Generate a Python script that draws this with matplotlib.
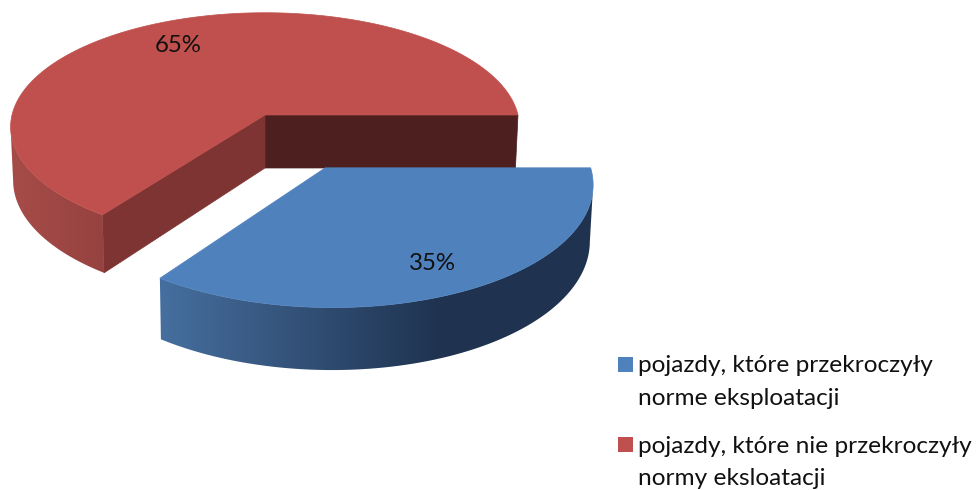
import numpy as np
import matplotlib
matplotlib.use("Agg")
import matplotlib.pyplot as plt
from matplotlib.colors import to_rgb
from matplotlib.patches import Polygon, Rectangle

categories = ["pojazdy, które przekroczyły\nnorme eksploatacji",
              "pojazdy, które nie przekroczyły\nnormy eksloatacji"]
shares = [35, 65]
pct_labels = ["35%", "65%"]

W, H = 976, 490
CX, CY = 265.0, 115.0
A, B, K = 253.0, 113.0, 0.105
DEPTH = 53.0
EXPLODE = 0.5
FONT = "Lato"

fig = plt.figure(figsize=(W / 100, H / 100), dpi=100)
ax = fig.add_axes([0, 0, 1, 1])


def project(x, y, low=False):
    w = 1 - K * y
    u = A * x / w
    v = B * y / w
    if low:
        u *= 0.99
        v += DEPTH / w
    return np.column_stack([CX + u, CY + v])


def arc(a0, a1, off, n=360):
    t = np.radians(np.linspace(a0, a1, n))
    return np.cos(t) + off[0], np.sin(t) + off[1]


def draw_slice(a0, a1, off, top, side0, side1, x0, x1, walls):
    ox, oy = off
    # flat cut faces first
    for ang, col in walls:
        ex, ey = np.cos(np.radians(ang)) + ox, np.sin(np.radians(ang)) + oy
        xs, ys = np.array([ox, ex]), np.array([oy, ey])
        p_hi, p_lo = project(xs, ys), project(xs, ys, low=True)
        ax.add_patch(Polygon(np.vstack([p_hi, p_lo[::-1]]), fc=col, ec=col, lw=0.5, zorder=2))
    # outer wall: only the part of the arc that faces the viewer, shaded along x
    xs, ys = arc(a0, a1, off)
    hi, lo = project(xs, ys), project(xs, ys, low=True)
    front = np.gradient(hi[:, 0]) < 0
    rim = Polygon(np.vstack([hi[front], lo[front][::-1]]), fc="none", ec="none",
                  transform=ax.transData)
    ax.add_patch(rim)
    c0, c1 = np.array(to_rgb(side0)), np.array(to_rgb(side1))
    ramp = np.linspace(0, 1, 256)[None, :, None]
    grad = c0[None, None, :] + (c1 - c0)[None, None, :] * ramp
    im = ax.imshow(grad, extent=(x0, x1, H, 0), aspect="auto", zorder=3, interpolation="bilinear")
    im.set_clip_path(rim)
    for xa, xb, c in ((0, x0, c0), (x1, W, c1)):
        ext = ax.imshow(np.tile(c, (1, 1, 1)), extent=(xa, xb, H, 0), aspect="auto", zorder=3)
        ext.set_clip_path(rim)
    # top face
    outline = project(np.r_[ox, xs], np.r_[oy, ys])
    ax.add_patch(Polygon(outline, fc=top, ec=top, lw=0.5, zorder=4))


# screen-y grows toward the viewer, so angles run clockwise on screen from the right
sweep = [s / sum(shares) * 360 for s in shares]
b0, b1 = 0.0, sweep[0]
mid = np.radians((b0 + b1) / 2)
off_blue = (EXPLODE * np.cos(mid), EXPLODE * np.sin(mid))

draw_slice(b1, 360.0, (0, 0), "#C0504D", "#A64C48", "#964240", 12, 104,
           [(360.0, "#4D1F1E"), (b1, "#7E3432")])
draw_slice(b0, b1, off_blue, "#4F81BD", "#466F9F", "#1F3350", 160, 440, [])

ax.text(178, 46, pct_labels[1], fontsize=17.3, family=FONT, color="#111111",
        ha="center", va="center", zorder=6)
ax.text(432, 263, pct_labels[0], fontsize=17.3, family=FONT, color="#111111",
        ha="center", va="center", zorder=6)

colors = ["#4F81BD", "#C0504D"]
box_y = [357, 437]
base_y = [[372, 405], [453, 485]]
for cat, col, by, ys in zip(categories, colors, box_y, base_y):
    ax.add_patch(Rectangle((618, by), 15, 15, fc=col, ec="none", zorder=6))
    for line, y in zip(cat.split("\n"), ys):
        ax.text(638, y, line, fontsize=17.6, family=FONT, color="#111111",
                ha="left", va="baseline", zorder=6)

ax.set_xlim(0, W)
ax.set_ylim(H, 0)
ax.axis("off")

fig.savefig("out.png", dpi=100, facecolor="white")
